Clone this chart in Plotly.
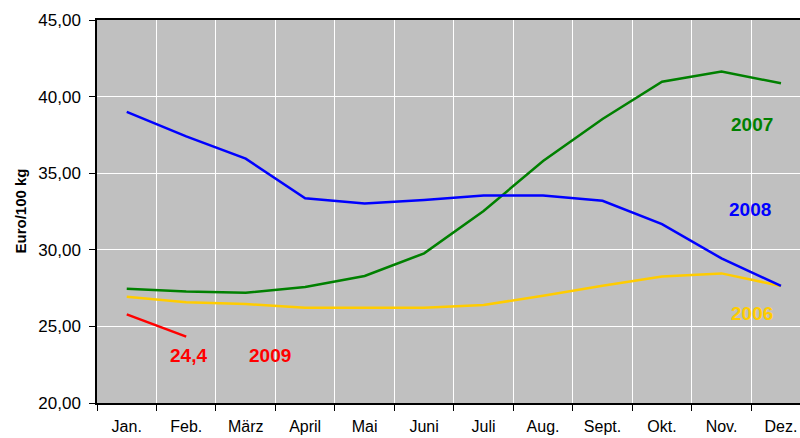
import plotly.graph_objects as go

months = ["Jan.", "Feb.", "März", "April", "Mai", "Juni", "Juli", "Aug.", "Sept.", "Okt.", "Nov.", "Dez."]
y2006 = [26.94, 26.57, 26.46, 26.22, 26.22, 26.22, 26.40, 27.00, 27.65, 28.25, 28.46, 27.64]
y2007 = [27.46, 27.27, 27.20, 27.57, 28.29, 29.77, 32.53, 35.80, 38.54, 40.97, 41.63, 40.87]
y2008 = [39.00, 37.40, 35.95, 33.36, 33.03, 33.25, 33.55, 33.55, 33.20, 31.68, 29.44, 27.64]
y2009 = [25.79, 24.33]
yticks = [20, 25, 30, 35, 40, 45]

x = list(range(len(months)))
fig = go.Figure()
series = [
    (y2006, "#FFCC00"),
    (y2007, "#008000"),
    (y2008, "#0000FF"),
    (y2009, "#FF0000"),
]
for ys, col in series:
    fig.add_trace(go.Scatter(x=x[:len(ys)], y=ys, mode="lines",
                             line=dict(color=col, width=2.5), showlegend=False,
                             hoverinfo="skip"))

labels = [
    ("2007", 10.52, 38.15, "#008000"),
    ("2008", 10.48, 32.6, "#0000FF"),
    ("2006", 10.52, 25.87, "#FFCC00"),
    ("24,4", 1.03, 23.13, "#FF0000"),
    ("2009", 2.41, 23.13, "#FF0000"),
]
for t, ax, ay, col in labels:
    fig.add_annotation(x=ax, y=ay, text="<b>%s</b>" % t, showarrow=False,
                       font=dict(color=col, size=19, family="Liberation Sans, Arial"))

fig.add_annotation(xref="paper", yref="paper", x=(20 - 97) / 703, y=0.5,
                   xanchor="center", yanchor="middle",
                   text="<b>Euro/100 kg</b>", textangle=-90, showarrow=False,
                   font=dict(size=15, color="black"))

fig.update_layout(
    width=800, height=438,
    margin=dict(l=97, r=0, t=20, b=35, autoexpand=False),
    paper_bgcolor="white", plot_bgcolor="#C0C0C0",
    separators=",.",
    font=dict(family="Liberation Sans, Arial", color="black"),
)
fig.update_xaxes(
    range=[-0.5, 11.32], tickvals=x, ticktext=months, ticks="",
    showgrid=False, zeroline=False, automargin=False,
    showline=True, linecolor="black", linewidth=1.5, mirror=True,
    tickfont=dict(size=16), ticklabelstandoff=8,
    minor=dict(tickvals=[i - 0.5 for i in range(13)], showgrid=True,
               gridcolor="white", gridwidth=1.2, ticks="outside",
               ticklen=6, tickcolor="black", tickwidth=1),
)
fig.update_yaxes(
    range=[20, 45], tickvals=yticks, tickformat=".2f",
    showgrid=True, gridcolor="white", gridwidth=1.2, zeroline=False,
    automargin=False,
    showline=True, linecolor="black", linewidth=1.5,
    ticks="outside", ticklen=6, tickcolor="black",
    tickfont=dict(size=17), ticklabelstandoff=5,
)
fig.write_html("out.html", config={"displayModeBar": False},
               post_script="document.body.style.margin='0';document.body.style.overflow='hidden';")
